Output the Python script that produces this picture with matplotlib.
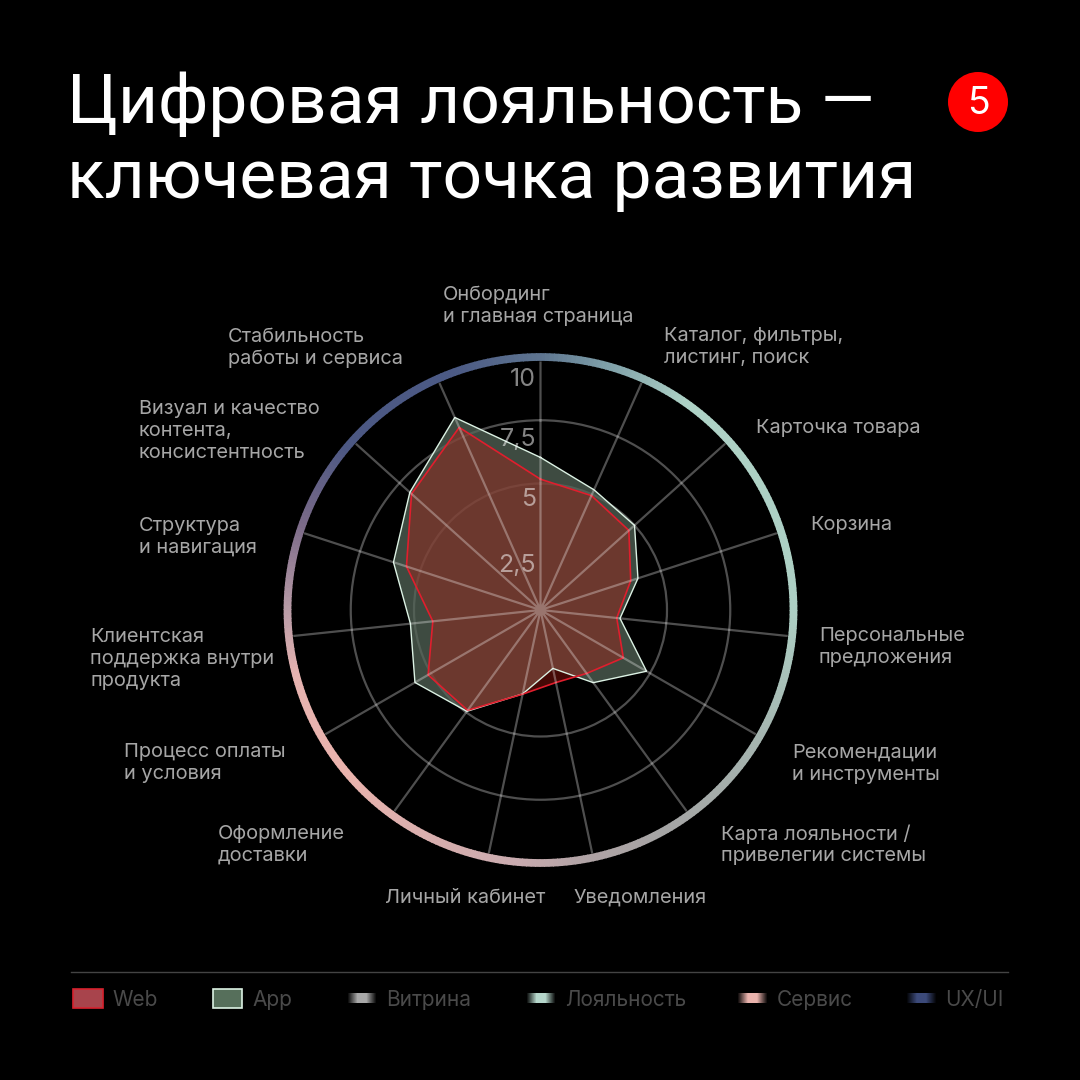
import numpy as np
import matplotlib
matplotlib.use('Agg')
import matplotlib.pyplot as plt
from matplotlib.colors import to_rgb
from matplotlib.patches import Rectangle, Circle
from matplotlib.transforms import Affine2D

plt.rcParams['font.family'] = ['Inter', 'DejaVu Sans']

categories = [
    'Онбординг\nи главная страница', 'Каталог, фильтры,\nлистинг, поиск', 'Карточка товара',
    'Корзина', 'Персональные\nпредложения', 'Рекомендации\nи инструменты',
    'Карта лояльности /\nпривелегии системы', 'Уведомления', 'Личный кабинет',
    'Оформление\nдоставки', 'Процесс оплаты\nи условия', 'Клиентская\nподдержка внутри\nпродукта',
    'Структура\nи навигация', 'Визуал и качество\nконтента,\nконсистентность',
    'Стабильность\nработы и сервиса',
]
app_values = [6.03, 5.2, 5.0, 4.05, 3.16, 4.84, 3.55, 2.36, 3.39, 4.95, 5.73, 5.17, 6.11, 6.95, 8.33]
web_values = [5.17, 4.95, 4.7, 3.75, 3.03, 3.78, 3.1, 2.93, 3.4, 4.9, 5.13, 4.28, 5.57, 6.86, 7.9]
r_tick_labels = ['2,5', '5', '7,5', '10']
legend_names = ['Web', 'App', 'Витрина', 'Лояльность', 'Сервис', 'UX/UI']

# положение подписей в пикселях картинки
label_xy = [(443, 286), (664, 327), (756, 428), (810, 525), (819, 627), (792, 744), (721, 824),
            (574, 898), (385, 898), (218, 825), (124, 743), (90, 628), (139, 517), (139, 400), (228, 328)]
tick_y = [565, 500, 439, 380]
legend_text_x = [112, 252, 386, 565, 777, 945]

ring_angles = [0, 15, 35, 90, 120, 150, 170, 185, 230, 255, 270, 290, 310, 340, 360]
ring_colors = ['#5e7590', '#7e9fa8', '#aed2c6', '#adcfc4', '#a5b5b0', '#a5a5a5', '#b0a3a5', '#c9abaf',
               '#eab3ad', '#e6b3b0', '#b99ca7', '#7a6a88', '#4c5883', '#4c5a85', '#5e7590']

fig = plt.figure(figsize=(10.8, 10.8), dpi=100, facecolor='black')
px = Affine2D().scale(1 / 1080, -1 / 1080).translate(0, 1) + fig.transFigure

cx, cy, rad = 540.5, 610, 253
ax = fig.add_axes([(cx - rad) / 1080, (1080 - cy - rad) / 1080, 2 * rad / 1080, 2 * rad / 1080],
                  projection='polar', facecolor='none')
ax.set_theta_zero_location('N')
ax.set_theta_direction(-1)
ax.set_ylim(0, 10)
ax.spines['polar'].set_visible(False)
ax.set_xticks([])
ax.set_yticks([5, 7.5])
ax.set_yticklabels([])
ax.grid(False)
ax.set_axisbelow(False)
ax.yaxis.grid(True, color='white', alpha=0.31, lw=1.6, zorder=6)

angles = np.deg2rad(np.arange(len(categories)) * 360 / len(categories))
# лучи одним путём, чтобы центр не засвечивался
spoke_t = np.column_stack([angles, angles, np.full_like(angles, np.nan)]).ravel()
spoke_r = np.column_stack([np.zeros_like(angles), np.full_like(angles, 9.78), np.full_like(angles, np.nan)]).ravel()
ax.plot(spoke_t, spoke_r, color='white', alpha=0.31, lw=1.6, zorder=6)

# цветное кольцо
ring_rgb = np.array([to_rgb(c) for c in ring_colors])
for deg in range(360):
    col = [np.interp(deg + 0.5, ring_angles, ring_rgb[:, i]) for i in range(3)]
    ax.plot(np.deg2rad([deg, deg + 1.2]), [10, 10], color=col, lw=5.6, solid_capstyle='butt',
            clip_on=False, zorder=2)

for lab, y in zip(r_tick_labels, tick_y):
    ax.text(536, y, lab, transform=px, ha='right', va='center', fontsize=18,
            color='white', alpha=0.52, zorder=7)

th = np.append(angles, angles[0])
ax.fill(th, app_values + app_values[:1], color='#546558', alpha=0.75, lw=0, zorder=3)
ax.fill(th, web_values + web_values[:1], color='#b81a10', alpha=0.38, lw=0, zorder=4)
ax.plot(th, web_values + web_values[:1], color='#e01e2d', lw=1.2, zorder=5)
ax.plot(th, app_values + app_values[:1], color='#dcf2e4', lw=1.0, zorder=4.5)

for name, (x, y) in zip(categories, label_xy):
    fig.text(x, y, name, transform=px, ha='left', va='center' if '\n' not in name else 'top',
             fontsize=14.4, color='#a6a6a6', linespacing=1.27)

title_font = ['Roboto', 'DejaVu Sans']
fig.text(67, 123, 'Цифровая лояльность —', transform=px, fontsize=50, color='white', va='baseline',
         family=title_font)
fig.text(67, 198, 'ключевая точка развития', transform=px, fontsize=50, color='white', va='baseline',
         family=title_font)

fig.add_artist(Circle((978, 102), 30, transform=px, color='#ff0000', lw=0))
fig.text(978, 104, '5', transform=px, ha='center', va='center', fontsize=27, color='white')

fig.add_artist(plt.Line2D([71, 1008], [972, 972], transform=px, color='#444444', lw=1))

# легенда
fig.add_artist(Rectangle((72.5, 988.5), 30, 19, transform=px, facecolor='#a8444c', edgecolor='#d8222e', lw=1.2))
fig.add_artist(Rectangle((212.5, 988.5), 29, 19, transform=px, facecolor='#566f5b', edgecolor='#dcf2e4', lw=1.2))
swatches = [(347, 377, '#a8a8a8'), (526, 556, '#b5d6cb'), (737, 768, '#eab3ad'), (906, 937, '#3c4a7a')]
for x0, x1, col in swatches:
    sw = fig.add_axes([x0 / 1080, (1080 - 1003) / 1080, (x1 - x0) / 1080, 10 / 1080])
    sw.axis('off')
    rgba = np.ones((1, 30, 4))
    rgba[:, :, :3] = to_rgb(col)
    rgba[0, :, 3] = np.clip(np.minimum(np.arange(30), np.arange(30)[::-1]) / 10, 0, 1)
    sw.imshow(rgba, aspect='auto', interpolation='bilinear')

for name, x in zip(legend_names, legend_text_x):
    fig.text(x, 1000.5, name, transform=px, va='center', fontsize=15, color='#4a4a4a')

fig.savefig('out.png', dpi=100, facecolor='black')
